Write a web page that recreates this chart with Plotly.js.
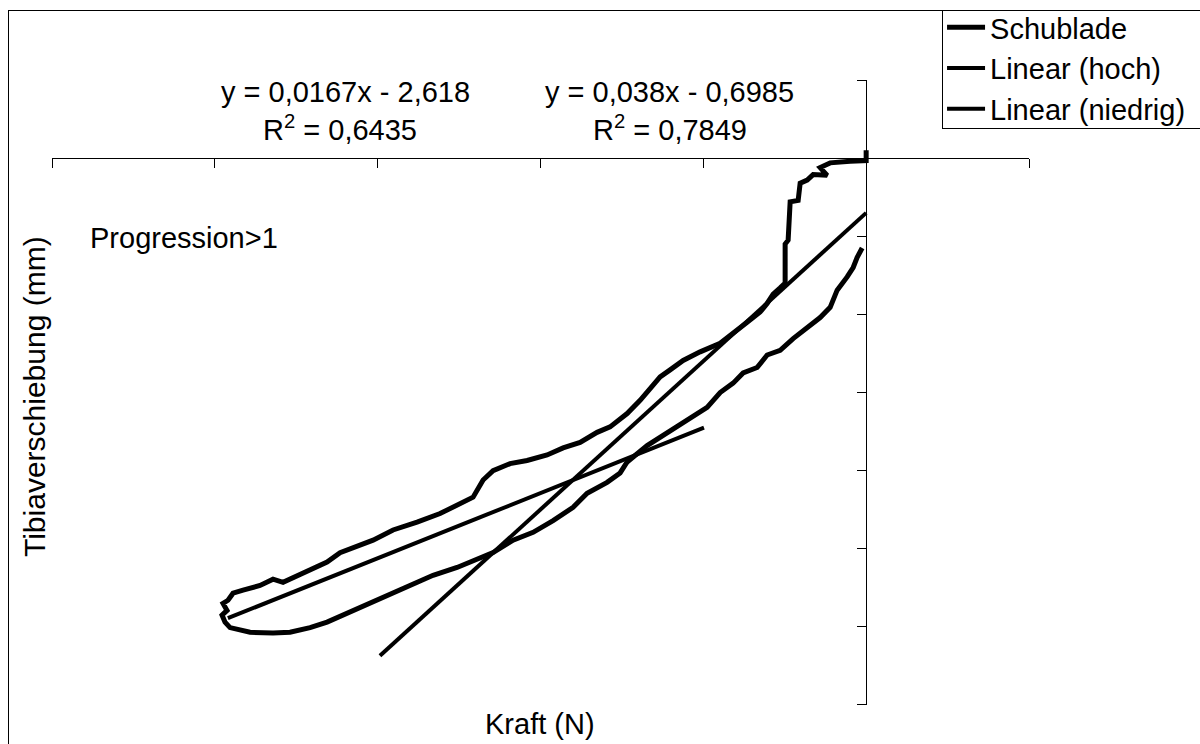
<!DOCTYPE html>
<html>
<head>
<meta charset="utf-8">
<script src="https://cdn.plot.ly/plotly-3.0.1.min.js"></script>
<style>
html,body{margin:0;padding:0;background:#fff;overflow:hidden;}
#wrap{position:relative;width:1200px;height:744px;overflow:hidden;}
#chart{width:1200px;height:744px;}
#frame{position:absolute;left:8px;top:10px;width:1200px;height:744px;border:1px solid #000;pointer-events:none;}
#legbox{position:absolute;left:942px;top:10px;width:300px;height:117px;border:1px solid #000;pointer-events:none;}
</style>
</head>
<body>
<div id="wrap"><div id="chart"></div><div id="frame"></div><div id="legbox"></div></div>
<script>
// Schublade measurement (Kraft in N, Tibiaverschiebung in mm)
const forceN = [0, 0, -4.91, -11.06, -14.13, -11.98, -16.28, -18.12, -20.27, -20.88, -23.34, -23.96, -24.88, -24.88,
  -26.41, -28.56, -30.41, -32.56, -36.55, -40.85, -44.84, -50.98, -56.20, -60.20, -63.27, -66.34, -69.41, -73.40,
  -78.63, -82.62, -87.84, -93.06, -97.97, -104.12, -109.34, -114.56, -117.63, -120.70, -124.69, -130.84, -137.90,
  -145.27, -151.41, -157.56, -161.55, -165.54, -169.84, -173.84, -179.06, -182.13, -186.12, -191.34, -194.41,
  -195.95, -197.49, -196.26, -197.79, -196.87, -195.33,
  -189.19, -182.13, -176.91, -170.76, -165.54, -160.63, -155.41, -150.19, -145.27, -139.13, -132.99, -125.62,
  -120.70, -114.56, -108.42, -102.27, -96.13, -89.99, -85.69, -79.55, -75.55, -73.40, -67.26, -61.12, -54.98,
  -48.83, -44.84, -40.85, -37.78, -33.48, -30.41, -26.41, -22.42, -18.12, -14.13, -11.06, -8.91, -5.84, -3.99,
  -2.76, -1.23];
const shiftMm = [0.10, -0.03, -0.04, -0.06, -0.12, -0.22, -0.21, -0.28, -0.32, -0.54, -0.56, -1.05, -1.10, -1.60,
  -1.66, -1.74, -1.86, -1.97, -2.10, -2.24, -2.37, -2.48, -2.59, -2.71, -2.80, -2.95, -3.10, -3.27,
  -3.44, -3.51, -3.64, -3.71, -3.80, -3.87, -3.91, -4.00, -4.12, -4.34, -4.42, -4.55, -4.66,
  -4.76, -4.89, -4.98, -5.05, -5.17, -5.25, -5.34, -5.43, -5.39, -5.47, -5.53, -5.57,
  -5.66, -5.70, -5.79, -5.85, -5.94, -6.01,
  -6.07, -6.08, -6.07, -6.01, -5.94, -5.85, -5.76, -5.66, -5.57, -5.47, -5.34, -5.24,
  -5.15, -5.05, -4.89, -4.79, -4.64, -4.47, -4.29, -4.15, -4.03, -3.89, -3.68, -3.52, -3.36,
  -3.19, -3.00, -2.88, -2.75, -2.68, -2.52, -2.46, -2.31, -2.16, -2.04, -1.91, -1.69, -1.52, -1.40,
  -1.27, -1.15];

// Linear trendlines (end points)
const hochX = [-149.3, 0];
const hochY = [-6.37, -0.70];
const niedrigX = [-196.0, -49.8];
const niedrigY = [-5.89, -3.45];

const seriesNames = ['Schublade', 'Linear (hoch)', 'Linear (niedrig)'];
const eqHoch = ['y = 0,038x - 0,6985', 'R<sup>2</sup> = 0,7849'];
const eqNiedrig = ['y = 0,0167x - 2,618', 'R<sup>2</sup> = 0,6435'];
const xTicks = [-250, -200, -150, -100, -50, 0, 50];
const yTicks = [-7, -6, -5, -4, -3, -2, -1, 0, 1];

const FONT = 'Liberation Sans, Arial, Helvetica, sans-serif';
const FS = 29;

const traces = [
  {x: forceN, y: shiftMm, name: seriesNames[0], mode: 'lines', line: {color: '#000', width: 5}},
  {x: hochX, y: hochY, name: seriesNames[1], mode: 'lines', line: {color: '#000', width: 4}},
  {x: niedrigX, y: niedrigY, name: seriesNames[2], mode: 'lines', line: {color: '#000', width: 4}}
];

const annFont = {family: FONT, size: FS, color: '#000'};
const layout = {
  width: 1200, height: 744,
  margin: {l: 52, r: 171, t: 80, b: 39, pad: 0, autoexpand: false},
  paper_bgcolor: '#fff', plot_bgcolor: 'rgba(0,0,0,0)',
  font: {family: FONT, size: FS, color: '#000'},
  showlegend: true,
  legend: {x: 0.911, y: 1.1248, xanchor: 'left', yanchor: 'top', itemwidth: 38,
    borderwidth: 0, bgcolor: 'rgba(0,0,0,0)',
    font: {family: FONT, size: FS, color: '#000'}, tracegroupgap: 0},
  xaxis: {range: [-250.001, 50.001], tickmode: 'array', tickvals: xTicks, ticks: 'outside', ticklen: 9,
    tickcolor: '#000', tickwidth: 1, showticklabels: false, showgrid: false, zeroline: false,
    showline: true, linecolor: '#000', linewidth: 1, anchor: 'free', position: 0.875},
  yaxis: {range: [-7.001, 1.001], tickmode: 'array', tickvals: yTicks, ticks: 'outside', ticklen: 9,
    tickcolor: '#000', tickwidth: 1, showticklabels: false, showgrid: false, zeroline: false,
    showline: true, linecolor: '#000', linewidth: 1, anchor: 'free', position: 0.8333},
  annotations: [
    {text: eqNiedrig[0], xref: 'paper', yref: 'paper', x: 0.2999, y: 0.9808, xanchor: 'center', yanchor: 'middle', showarrow: false, font: annFont},
    {text: eqNiedrig[1], xref: 'paper', yref: 'paper', x: 0.2948, y: 0.9232, xanchor: 'center', yanchor: 'middle', showarrow: false, font: annFont},
    {text: eqHoch[0], xref: 'paper', yref: 'paper', x: 0.6325, y: 0.9808, xanchor: 'center', yanchor: 'middle', showarrow: false, font: annFont},
    {text: eqHoch[1], xref: 'paper', yref: 'paper', x: 0.6325, y: 0.9232, xanchor: 'center', yanchor: 'middle', showarrow: false, font: annFont},
    {text: 'Progression>1', xref: 'paper', yref: 'paper', x: 0.0368, y: 0.7472, xanchor: 'left', yanchor: 'middle', showarrow: false, font: annFont},
    {text: 'Tibiaverschiebung (mm)', xref: 'paper', yref: 'paper', x: -0.0184, y: 0.4928, xanchor: 'center', yanchor: 'middle', textangle: -90, showarrow: false, font: {family: FONT, size: 30, color: '#000'}},
    {text: 'Kraft (N)', xref: 'paper', yref: 'paper', x: 0.4995, y: -0.0304, xanchor: 'center', yanchor: 'middle', showarrow: false, font: annFont}
  ]
};

Plotly.newPlot('chart', traces, layout, {displayModeBar: false, staticPlot: true});
</script>
</body>
</html>
